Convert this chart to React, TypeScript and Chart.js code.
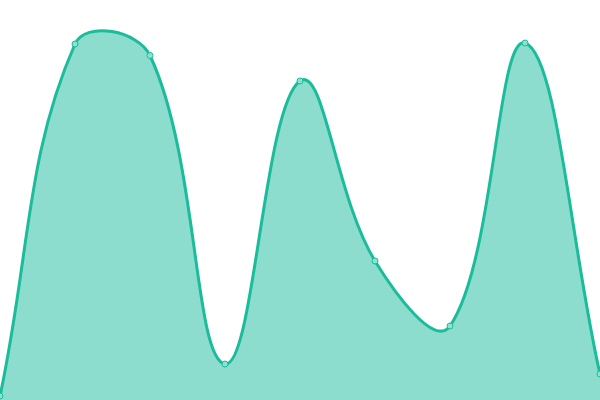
import React, { useRef, useEffect } from 'react';
import Chart from 'chart.js/auto';

const labels = ['1', '2', '3', '4', '5', '6', '7', '8', '9'];
const values = [4, 356, 344.5, 36, 319, 139, 74, 357, 26];

const App: React.FC = () => {
  const canvasRef = useRef<HTMLCanvasElement | null>(null);

  useEffect(() => {
    if (!canvasRef.current) return;

    const chart = new Chart(canvasRef.current, {
      type: 'line',
      data: {
        labels: labels,
        datasets: [
          {
            data: values,
            borderColor: '#1abc9c',
            backgroundColor: 'rgba(26, 188, 156, 0.5)',
            borderWidth: 3,
            pointRadius: 3,
            pointBorderWidth: 1,
            pointBackgroundColor: '#8ee0d0',
            pointBorderColor: '#1abc9c',
            tension: 0.4,
            fill: true,
          },
        ],
      },
      options: {
        animation: false,
        responsive: true,
        maintainAspectRatio: false,
        layout: { padding: 0, autoPadding: false },
        scales: {
          x: { display: false },
          y: { display: false, min: 0, max: 400 },
        },
        plugins: {
          legend: { display: false },
          tooltip: { enabled: false },
        },
      },
    });

    return () => {
      chart.destroy();
    };
  }, []);

  return (
    <div style={{ position: 'fixed', left: 0, top: 0, width: 600, height: 400 }}>
      <canvas ref={canvasRef}></canvas>
    </div>
  );
};

export default App;
